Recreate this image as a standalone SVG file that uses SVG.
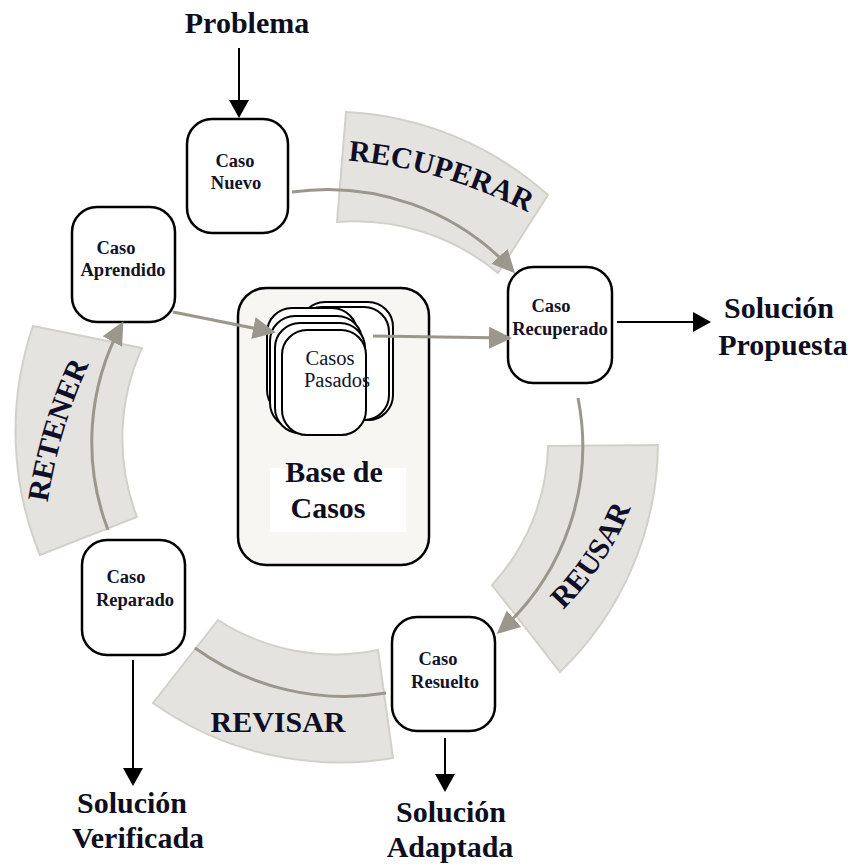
<svg xmlns="http://www.w3.org/2000/svg" width="855" height="865" viewBox="0 0 855 865">
<style>
.band{fill:#e5e3df;stroke:#d3d0c9;stroke-width:2}
.phase{font-family:"Liberation Serif","Times New Roman",serif;font-weight:bold;font-size:30px;fill:#0e0e26}
.node{fill:#fff;stroke:#000;stroke-width:2.5}
.card{fill:#fff;stroke:#000;stroke-width:2}
.nt{font-family:"Liberation Serif","Times New Roman",serif;font-weight:bold;font-size:18.5px;fill:#121228;text-anchor:middle}
.big{font-family:"Liberation Serif","Times New Roman",serif;font-weight:bold;font-size:30px;fill:#0e0e1e;text-anchor:middle}
.garc{fill:none;stroke:#9c978c;stroke-width:3}
.blk{fill:none;stroke:#000;stroke-width:2}
</style>
<defs>
<marker id="gh" markerUnits="userSpaceOnUse" markerWidth="26" markerHeight="24" refX="20" refY="11" orient="auto">
<path d="M0,0 L23,11 L0,22 Z" fill="#9c978c"/>
</marker>
<marker id="bh" markerUnits="userSpaceOnUse" markerWidth="22" markerHeight="22" refX="16" refY="10" orient="auto">
<path d="M0,0 L18,10 L0,20 Z" fill="#000"/>
</marker>
<path id="pRec" d="M340,160 Q440,166 535,216"/>
<path id="pReu" d="M561,612 Q607,567 632,505"/>
<path id="pRet" d="M47,507 Q58,430 91,360"/>
</defs>

<g id="bands">
<path class="band" d="M346,112 A328,328 0 0,1 548,195 L498,273 A224,224 0 0,0 337,222 Z"/>
<path class="band" d="M548,446 L658,445 A320,320 0 0,1 560,672 L492,585 A212,212 0 0,0 548,446 Z"/>
<path class="band" d="M218,620 A215,215 0 0,0 378,650 L393,758 A322,322 0 0,1 153,703 Z"/>
<path class="band" d="M33,326 L142,348 A218,218 0 0,0 137,517 L40,555 A325,325 0 0,1 33,326 Z"/>
<text class="phase"><textPath href="#pRec" startOffset="50%" text-anchor="middle">RECUPERAR</textPath></text>
<text class="phase"><textPath href="#pReu" startOffset="50%" text-anchor="middle">REUSAR</textPath></text>
<text class="phase"><textPath href="#pRet" startOffset="50%" text-anchor="middle">RETENER</textPath></text>
<text class="phase" x="278" y="732" text-anchor="middle">REVISAR</text>
</g>

<g id="base-de-casos">
<rect x="238" y="288" width="191" height="277" rx="28" fill="#f7f6f3" stroke="#000" stroke-width="2.5"/>
<rect x="270" y="468" width="136" height="64" fill="#fff"/>
<text class="big" x="334" y="482">Base de</text>
<text class="big" x="328" y="518">Casos</text>
</g>

<g id="casos-pasados">
<rect class="card" x="300" y="302" width="93" height="118" rx="25"/>
<rect class="card" x="297" y="307" width="92" height="113" rx="25"/>
<rect class="card" x="267" y="308" width="90" height="107" rx="25"/>
<rect class="card" x="270" y="316" width="92" height="112" rx="25"/>
<rect class="card" x="275" y="323" width="90" height="110" rx="25"/>
<rect class="card" x="282" y="330" width="84" height="105" rx="25"/>
<text x="330" y="365" font-family="Liberation Serif, Times New Roman, serif" font-size="20.5" fill="#121228" text-anchor="middle">Casos</text>
<text x="337" y="387" font-family="Liberation Serif, Times New Roman, serif" font-size="20.5" fill="#121228" text-anchor="middle">Pasados</text>
</g>

<g id="caso-nuevo">
<rect class="node" x="187" y="119" width="101" height="114" rx="25"/>
<text class="nt" x="235" y="167">Caso</text>
<text class="nt" x="236" y="189">Nuevo</text>
</g>

<g id="caso-aprendido">
<rect class="node" x="72" y="207" width="103" height="115" rx="25"/>
<text class="nt" x="116" y="254">Caso</text>
<text class="nt" x="123" y="276">Aprendido</text>
</g>

<g id="caso-recuperado">
<rect class="node" x="508" y="267" width="104" height="116" rx="25"/>
<text class="nt" x="551" y="312">Caso</text>
<text class="nt" x="560" y="335">Recuperado</text>
</g>

<g id="caso-resuelto">
<rect class="node" x="392" y="617" width="103" height="114" rx="25"/>
<text class="nt" x="438" y="665">Caso</text>
<text class="nt" x="445" y="688">Resuelto</text>
</g>

<g id="caso-reparado">
<rect class="node" x="82" y="540" width="103" height="115" rx="25"/>
<text class="nt" x="126" y="583">Caso</text>
<text class="nt" x="135" y="606">Reparado</text>
</g>

<g id="problema"><text class="big" x="247" y="33">Problema</text></g>
<g id="solucion-propuesta">
<text class="big" x="779" y="318">Solución</text>
<text class="big" x="783" y="355">Propuesta</text>
</g>
<g id="solucion-verificada">
<text class="big" x="132" y="813">Solución</text>
<text class="big" x="138" y="848">Verificada</text>
</g>
<g id="solucion-adaptada">
<text class="big" x="451" y="822">Solución</text>
<text class="big" x="450" y="857">Adaptada</text>
</g>

<g id="connectors">
<path class="garc" d="M292,192 A252,252 0 0,1 513,271" marker-end="url(#gh)"/>
<path class="garc" d="M578,398 A248,248 0 0,1 499,632" marker-end="url(#gh)"/>
<path class="garc" d="M386,693 A255,255 0 0,1 195,648"/>
<path class="garc" d="M108,530 A246,246 0 0,1 122,324" marker-end="url(#gh)"/>
<path class="garc" d="M173,312 L273,332" marker-end="url(#gh)"/>
<path class="garc" d="M373,336 L509,338" marker-end="url(#gh)"/>
<path class="blk" d="M239,48 L239,116" marker-end="url(#bh)"/>
<path class="blk" d="M617,322 L709,322" marker-end="url(#bh)"/>
<path class="blk" d="M133,660 L133,784" marker-end="url(#bh)"/>
<path class="blk" d="M445,738 L445,790" marker-end="url(#bh)"/>
</g>
</svg>
